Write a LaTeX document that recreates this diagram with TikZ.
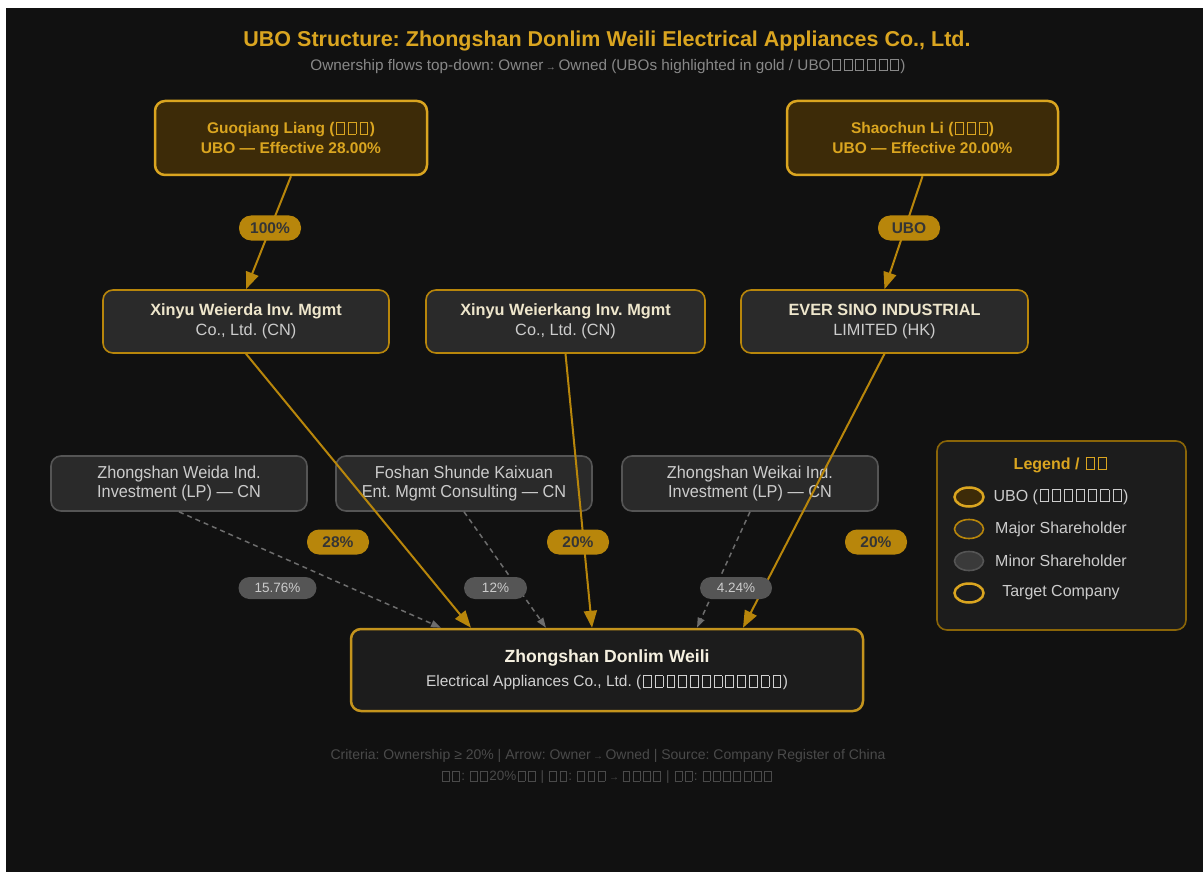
\documentclass[tikz,border=0pt]{standalone}
\usepackage{fontspec}
\setmainfont{Liberation Sans}
\newfontfamily\narrowfont[FakeStretch=0.94]{Liberation Sans}
\usetikzlibrary{arrows.meta,calc,shapes.geometric}
\definecolor{bgc}{HTML}{111111}
\definecolor{goldt}{HTML}{DAA520}
\definecolor{goldl}{HTML}{B8860B}
\definecolor{ubofill}{HTML}{3D2B08}
\definecolor{boxfill}{HTML}{2A2A2A}
\definecolor{tgfill}{HTML}{1C1C1C}
\definecolor{minorline}{HTML}{555555}
\definecolor{minorfill}{HTML}{3A3A3A}
\definecolor{cream}{HTML}{EEE6CC}
\definecolor{lgray}{HTML}{CCCCCC}
\definecolor{subg}{HTML}{888888}
\definecolor{footg}{HTML}{4A4A4A}
\newcommand\tofu{\kern0.1em\begingroup\fboxsep0pt\fboxrule0.05em\fbox{\rule{0pt}{0.7em}\kern0.46em}\endgroup\kern0.1em}
\newcommand\smarrow{\,{\fontsize{10}{10}\selectfont →}\,}
\tikzset{
  ubobox/.style={rounded corners=10pt, fill=ubofill, draw=goldt, line width=2.5pt, minimum width=272pt, minimum height=74pt, inner sep=0pt, align=center, text=goldt, font=\bfseries\fontsize{15.5}{20}\selectfont},
  majorbox/.style={rounded corners=10pt, fill=boxfill, draw=goldl, line width=1.6pt, minimum height=63pt, inner sep=0pt, align=center, text=lgray, font=\fontsize{16.3}{20}\selectfont},
  minorbox/.style={rounded corners=10pt, fill=boxfill, draw=minorline, line width=1.6pt, minimum width=256pt, minimum height=55pt, inner sep=0pt, align=center, text=lgray, font=\narrowfont\fontsize{17.3}{19}\selectfont},
  goldarrow/.style={draw=goldl, line width=2pt, -{Triangle[length=17pt,width=13pt]}},
  grayarrow/.style={draw=subg!80!black, line width=1.5pt, dash pattern=on 5pt off 4pt, -{Triangle[length=10pt,width=7pt]}},
  goldpill/.style={rounded corners=12pt, fill=goldl, minimum height=25pt, minimum width=62pt, inner sep=0pt, text=bgc!85!white, font=\bfseries\fontsize{15.5}{16}\selectfont},
  graypill/.style={rounded corners=11pt, fill=minorline, minimum height=22pt, inner sep=0pt, text=lgray, font=\fontsize{13.5}{14}\selectfont},
  legitem/.style={ellipse, minimum width=29pt, minimum height=19pt, inner sep=0pt},
  legtext/.style={text=lgray, font=\fontsize{16}{18}\selectfont},
}
\begin{document}
\frenchspacing
\begin{tikzpicture}[x=1pt,y=-1pt]
\useasboundingbox (0,0) rectangle (1203,872);
\fill[bgc] (6,8) rectangle (1203,872);
% title
\node[text=goldt, font=\bfseries\fontsize{21.5}{24}\selectfont] (title) at (607,41) {UBO Structure: Zhongshan Donlim Weili Electrical Appliances Co., Ltd.};
\node[text=subg, font=\fontsize{15.3}{18}\selectfont] (subtitle) at (608,66) {Ownership flows top-down: Owner\smarrow Owned (UBOs highlighted in gold / UBO\tofu\tofu\tofu\tofu\tofu\tofu)};
% UBO boxes
\node[ubobox] (gq) at (291,138) {Guoqiang Liang (\tofu\tofu\tofu)\\UBO — Effective 28.00\%};
\node[ubobox, minimum width=271pt] (sl) at (922.5,138) {Shaochun Li (\tofu\tofu\tofu)\\UBO — Effective 20.00\%};
% major boxes
\node[majorbox, minimum width=286pt] (wd) at (246,321.5) {\textcolor{cream}{\bfseries Xinyu Weierda Inv. Mgmt}\\Co., Ltd. (CN)};
\node[majorbox, minimum width=279pt] (wk) at (565.5,321.5) {\textcolor{cream}{\bfseries Xinyu Weierkang Inv. Mgmt}\\Co., Ltd. (CN)};
\node[majorbox, minimum width=287pt] (es) at (884.5,321.5) {\textcolor{cream}{\bfseries EVER SINO INDUSTRIAL}\\LIMITED (HK)};
% minor boxes
\node[minorbox] (zw) at (179,483.5) {Zhongshan Weida Ind.\\Investment (LP) — CN};
\node[minorbox] (fs) at (464,483.5) {Foshan Shunde Kaixuan\\Ent. Mgmt Consulting — CN};
\node[minorbox] (zk) at (750,483.5) {Zhongshan Weikai Ind.\\Investment (LP) — CN};
% target
\node[rounded corners=10pt, fill=tgfill, draw=goldt!90!black, line width=2.5pt, minimum width=512pt, minimum height=82pt, inner sep=0pt, align=center, text=lgray!90!white, font=\fontsize{15.5}{24}\selectfont] (tg) at (607,670)
  {\textcolor{cream!60!white}{\bfseries\fontsize{17.6}{24}\selectfont Zhongshan Donlim Weili}\\Electrical Appliances Co., Ltd. (\tofu\tofu\tofu\tofu\tofu\tofu\tofu\tofu\tofu\tofu\tofu\tofu)};
% connectors
\draw[grayarrow] (zw.south) -- ($(tg.north)+(-166,0)$);
\draw[grayarrow] (fs.south) -- ($(tg.north)+(-61,0)$);
\draw[grayarrow] (zk.south) -- ($(tg.north)+(90,0)$);
\draw[goldarrow] (gq.south) -- (wd.north);
\draw[goldarrow] (sl.south) -- (es.north);
\draw[goldarrow] (wd.south) -- ($(tg.north)+(-136,0)$);
\draw[goldarrow] (wk.south) -- ($(tg.north)+(-15,0)$);
\draw[goldarrow] (es.south) -- ($(tg.north)+(136,0)$);
% labels
\node[goldpill] (l100) at (270,228) {100\%};
\node[goldpill] (lubo) at (909,228) {UBO};
\node[goldpill] (l28) at (338,542) {28\%};
\node[goldpill] (l20a) at (578,542) {20\%};
\node[goldpill] (l20b) at (876,542) {20\%};
\node[graypill, minimum width=78pt] (l1576) at (277.5,588) {15.76\%};
\node[graypill, minimum width=63pt] (l12) at (495.5,588) {12\%};
\node[graypill, minimum width=72pt] (l424) at (736,588) {4.24\%};
% legend
\node[rounded corners=10pt, fill=tgfill, draw=goldl!75!black, line width=1.6pt, minimum width=249pt, minimum height=189pt, inner sep=0pt] (leg) at (1061.5,535.5) {};
\node[text=goldt, font=\bfseries\fontsize{16}{18}\selectfont] (legt) at (1061,465) {Legend / \tofu\tofu};
\node[legitem, fill=ubofill, draw=goldt, line width=2.5pt] (e1) at (969,497) {};
\node[legitem, fill=boxfill, draw=goldl, line width=1.6pt] (e2) at (969,529) {};
\node[legitem, fill=minorfill, draw=minorline, line width=1.6pt] (e3) at (969,561) {};
\node[legitem, fill=tgfill, draw=goldt, line width=2.5pt] (e4) at (969,593) {};
\node[legtext] (t1) at (1061,497) {UBO (\tofu\tofu\tofu\tofu\tofu\tofu\tofu)};
\node[legtext] (t2) at (1061,529) {Major Shareholder};
\node[legtext] (t3) at (1061,561) {Minor Shareholder};
\node[legtext] (t4) at (1061,593) {Target Company};
% footer
\node[text=footg, font=\fontsize{14}{14}\selectfont] (f1) at (608,756) {Criteria: Ownership ≥ 20\% | Arrow: Owner\smarrow Owned | Source: Company Register of China};
\node[text=footg, font=\fontsize{13.5}{14}\selectfont] (f2) at (607,777) {\tofu\tofu: \tofu\tofu20\%\tofu\tofu{} | \tofu\tofu: \tofu\tofu\tofu\smarrow\tofu\tofu\tofu\tofu{} | \tofu\tofu: \tofu\tofu\tofu\tofu\tofu\tofu\tofu};
\end{tikzpicture}
\end{document}
